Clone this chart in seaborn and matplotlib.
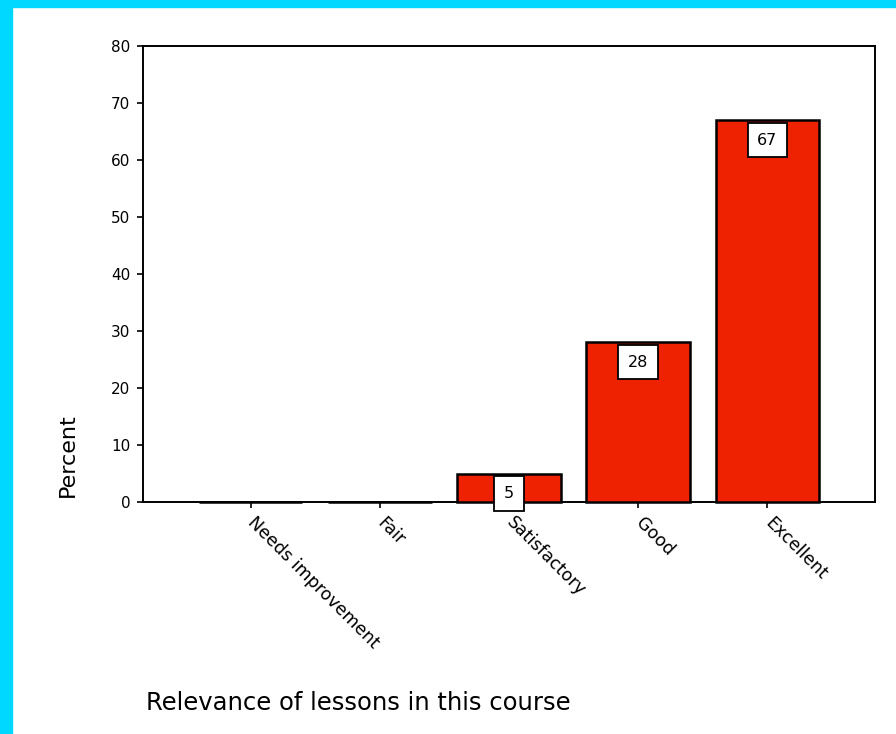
import matplotlib
matplotlib.use("Agg")
import matplotlib.pyplot as plt
import seaborn as sns
import pandas as pd

categories = ["Needs improvement", "Fair", "Satisfactory", "Good", "Excellent"]
percent = [0, 0, 5, 28, 67]
value_labels = ["", "", "5", "28", "67"]
y_ticks = [0, 10, 20, 30, 40, 50, 60, 70, 80]

df = pd.DataFrame({"category": categories, "percent": percent})

sns.set_theme(style="white")
plt.rcParams["font.family"] = ["DejaVu Sans"]
plt.rcParams["text.color"] = "black"
plt.rcParams["axes.labelcolor"] = "black"
plt.rcParams["xtick.color"] = "black"
plt.rcParams["ytick.color"] = "black"

fig = plt.figure(figsize=(8.96, 7.34), dpi=100)
fig.patch.set_facecolor("white")

# cyan frame along the top and left edges
fig.patches.append(plt.Rectangle((0, 0), 12 / 896, 1, transform=fig.transFigure,
                                 color="#00D8FF", zorder=0))
fig.patches.append(plt.Rectangle((0, 1 - 7 / 734), 1, 7 / 734, transform=fig.transFigure,
                                 color="#00D8FF", zorder=0))

ax = fig.add_axes([143 / 896, 1 - 502 / 734, (875 - 143) / 896, (502 - 46) / 734])

sns.barplot(data=df, x="category", y="percent", order=categories, ax=ax,
            color="#EE2200", saturation=1, width=0.8,
            edgecolor="black", linewidth=1.8)

# bars above the spines so the empty categories still show as a flat line
for bar in ax.patches:
    bar.set_zorder(3)
    bar.set_clip_on(False)
    bar.set_joinstyle("miter")

ax.set_xlim(-0.834, 4.834)
ax.set_ylim(0, 80)
ax.set_yticks(y_ticks)
ax.set_yticklabels([str(t) for t in y_ticks], fontsize=11)

ax.set_xticks(range(len(categories)))
ax.set_xticklabels(categories, rotation=-45, ha="left", va="center",
                   rotation_mode="anchor", fontsize=12.5)

ax.tick_params(axis="both", which="both", direction="out", length=4, width=1.2,
               color="black", labelcolor="black", bottom=True, left=True, pad=5)
ax.tick_params(axis="x", pad=9)

for side in ["left", "right", "top", "bottom"]:
    ax.spines[side].set_visible(True)
    ax.spines[side].set_color("black")
    ax.spines[side].set_linewidth(1.4)
    ax.spines[side].set_zorder(2)

# boxed value labels just below each bar top
for i, (v, lab) in enumerate(zip(percent, value_labels)):
    if not lab:
        continue
    ax.annotate(lab, xy=(i, v), xytext=(0, -20), textcoords="offset pixels",
                ha="center", va="center", fontsize=11.5, color="black",
                bbox=dict(boxstyle="square,pad=0.6", fc="white", ec="black", lw=1.3),
                annotation_clip=False, zorder=5)

ax.set_ylabel("Percent", fontsize=16, rotation=90, va="center", ha="center")
ax.yaxis.set_label_coords(-0.102, 0.103)
ax.set_xlabel("Relevance of lessons in this course", fontsize=17.5, ha="left", va="center")
ax.xaxis.set_label_coords(0.004, -0.44)

fig.savefig("out.png", dpi=100, facecolor=fig.get_facecolor())
